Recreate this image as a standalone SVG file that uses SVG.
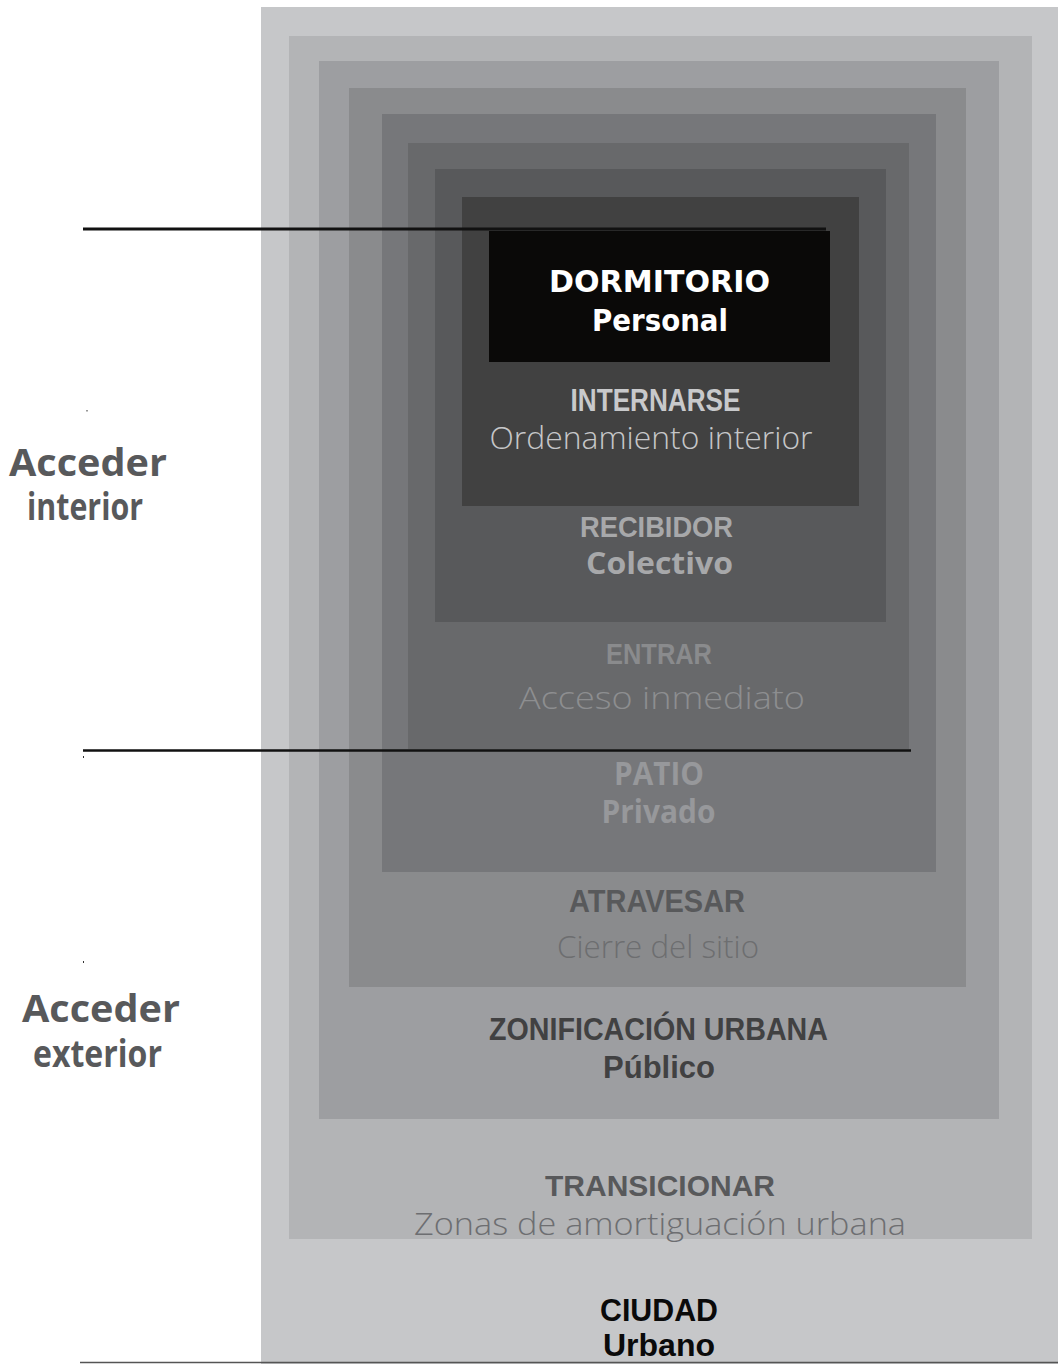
<svg xmlns="http://www.w3.org/2000/svg" width="1061" height="1364" viewBox="0 0 1061 1364">
<style>
.t{text-anchor:middle}
.tah{font-family:"DejaVu Sans","Liberation Sans",sans-serif;font-weight:bold}
.cond{font-family:"Liberation Sans Narrow","Liberation Sans",sans-serif;font-weight:bold}
.goth{font-family:"Open Sans","Liberation Sans",sans-serif;font-weight:300}
.gothb{font-family:"Open Sans","Liberation Sans",sans-serif;font-weight:700}
.ln{stroke:#111;fill:none}
</style>
<rect width="1061" height="1364" fill="#ffffff"/>
<g id="ciudad">
<rect x="261" y="7" width="797" height="1357" fill="#c6c7c9"/>
<text class="t cond" x="659" y="1321" font-size="31" fill="#0a0a0a" textLength="118" lengthAdjust="spacingAndGlyphs">CIUDAD</text>
<text class="t cond" x="659" y="1356" font-size="31" fill="#0a0a0a" textLength="112" lengthAdjust="spacingAndGlyphs">Urbano</text>
</g>
<g id="transicionar">
<rect x="289" y="36" width="743" height="1203" fill="#b3b4b6"/>
<text class="t cond" x="660" y="1196" font-size="30" fill="#58595b" textLength="230" lengthAdjust="spacingAndGlyphs">TRANSICIONAR</text>
<text class="t goth" x="660" y="1235" font-size="32" fill="#6d6e71" textLength="492" lengthAdjust="spacingAndGlyphs">Zonas de amortiguación urbana</text>
</g>
<g id="zonificacion">
<rect x="319" y="61" width="680" height="1058" fill="#9d9ea1"/>
<text class="t cond" x="658.5" y="1040" font-size="31" fill="#414142" textLength="339" lengthAdjust="spacingAndGlyphs">ZONIFICACIÓN  URBANA</text>
<text class="t cond" x="659" y="1078" font-size="31" fill="#414142" textLength="112" lengthAdjust="spacingAndGlyphs">Público</text>
</g>
<g id="atravesar">
<rect x="349" y="88" width="617" height="899" fill="#8a8b8d"/>
<text class="t cond" x="657" y="912" font-size="31" fill="#58595b" textLength="176" lengthAdjust="spacingAndGlyphs">ATRAVESAR</text>
<text class="t goth" x="658" y="958" font-size="31" fill="#6d6e70" textLength="202" lengthAdjust="spacingAndGlyphs">Cierre del sitio</text>
</g>
<g id="patio">
<rect x="382" y="114" width="554" height="758" fill="#76777a"/>
<text class="t gothb" x="659" y="785" font-size="32" fill="#97989b" textLength="90" lengthAdjust="spacingAndGlyphs">PATIO</text>
<text class="t gothb" x="658.5" y="823" font-size="32" fill="#97989b" textLength="114" lengthAdjust="spacingAndGlyphs">Privado</text>
</g>
<g id="entrar">
<rect x="408" y="143" width="501" height="606" fill="#68696b"/>
<text class="t cond" x="659" y="664" font-size="30" fill="#8a8b8d" textLength="106" lengthAdjust="spacingAndGlyphs">ENTRAR</text>
<text class="t goth" x="662" y="709" font-size="31" fill="#8d8e90" textLength="286" lengthAdjust="spacingAndGlyphs">Acceso  inmediato</text>
</g>
<g id="recibidor">
<rect x="435" y="169" width="451" height="453" fill="#58595b"/>
<text class="t cond" x="656.5" y="537" font-size="30" fill="#a7a8aa" textLength="153" lengthAdjust="spacingAndGlyphs">RECIBIDOR</text>
<text class="t gothb" x="659.5" y="574" font-size="30" fill="#a7a8aa" textLength="147" lengthAdjust="spacingAndGlyphs">Colectivo</text>
</g>
<g id="internarse">
<rect x="462" y="197" width="397" height="309" fill="#414141"/>
<text class="t cond" x="655.5" y="411" font-size="32" fill="#c8c9cb" textLength="170" lengthAdjust="spacingAndGlyphs">INTERNARSE</text>
<text class="t goth" x="651" y="449" font-size="31" fill="#c6c7c9" textLength="323" lengthAdjust="spacingAndGlyphs">Ordenamiento interior</text>
</g>
<g id="dormitorio">
<rect x="489" y="231" width="341" height="131" fill="#0a0908"/>
<text class="t tah" x="659.5" y="292" font-size="31" fill="#ffffff" textLength="221" lengthAdjust="spacingAndGlyphs">DORMITORIO</text>
<text class="t tah" x="660" y="331" font-size="31" fill="#ffffff" textLength="136" lengthAdjust="spacingAndGlyphs">Personal</text>
</g>
<g id="acceder-interior">
<text class="t gothb" x="88" y="476" font-size="38" fill="#58595b" textLength="158" lengthAdjust="spacingAndGlyphs">Acceder</text>
<text class="t gothb" x="85" y="520" font-size="38" fill="#58595b" textLength="116" lengthAdjust="spacingAndGlyphs">interior</text>
</g>
<g id="acceder-exterior">
<text class="t gothb" x="101" y="1022" font-size="38" fill="#58595b" textLength="158" lengthAdjust="spacingAndGlyphs">Acceder</text>
<text class="t gothb" x="97.5" y="1067" font-size="38" fill="#58595b" textLength="129" lengthAdjust="spacingAndGlyphs">exterior</text>
</g>
<g id="connectors">
<line class="ln" x1="83" y1="229" x2="826" y2="229" stroke-width="3"/>
<line class="ln" x1="83" y1="750.5" x2="911" y2="750.5" stroke-width="2.5"/>
<line x1="80" y1="1362.5" x2="1058" y2="1362.5" stroke="#555" stroke-width="1.5"/>
<rect x="86.5" y="410" width="1" height="1.5" fill="#333"/>
<rect x="83" y="756" width="1" height="2" fill="#333"/>
<rect x="83" y="961" width="1" height="2" fill="#333"/>
</g>
</svg>
